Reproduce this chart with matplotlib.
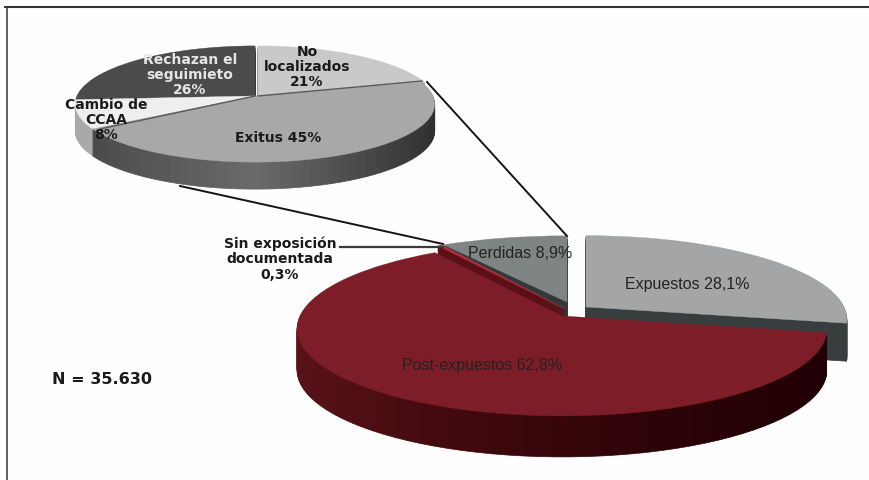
import matplotlib
matplotlib.use("Agg")
import matplotlib.pyplot as plt
import matplotlib.patches as mpatches
import matplotlib.transforms as mtrans
import matplotlib.colors as mcolors
import numpy as np

plt.rcParams['font.family'] = ['Liberation Sans', 'DejaVu Sans']

# main pie
main_names = ['Expuestos', 'Post-expuestos', 'Sin exposición', 'Perdidas']
main_vals = [28.1, 62.8, 0.3, 8.9]
main_top = ['#a3a5a6', '#7c1d27', '#b5303a', '#7f8485']
main_wall = [['#383d3e'], ['#1e0003', '#350509', '#5a1219'], ['#5c1016'], ['#33393a']]

# small pie, breakdown of perdidas
loss_names = ['No localizados', 'Exitus', 'Cambio de CCAA', 'Rechazan el seguimiento']
loss_vals = [21, 45, 8, 26]
loss_top = ['#c9c9c9', '#a8a8a8', '#efefef', '#4b4b4b']
loss_wall = [['#8c8c8c'], ['#2e2e2e', '#6a6a6a', '#454545'], ['#a9a9a9'], ['#333333']]


class Tilt(mtrans.Transform):
    # flat unit circle -> tilted disc in pixel coords
    input_dims = 2
    output_dims = 2
    is_separable = False

    def __init__(self, cx, cy, r, s, k):
        super().__init__()
        self.cx, self.cy, self.r, self.s, self.k = cx, cy, r, s, k

    def transform_non_affine(self, xy):
        xy = np.asarray(xy)
        w = 1 + self.k * xy[:, 1]
        return np.column_stack([self.cx + self.r * xy[:, 0] / w,
                                self.cy - self.s * xy[:, 1] / w])


fig = plt.figure(figsize=(8.7, 4.81), dpi=100, facecolor='#fefefe')
ax = fig.add_axes([0, 0, 1, 1])
z = [10]


def wall_color(stops, theta):
    # stops run from the right side of the disc to the left
    if len(stops) == 1:
        return stops[0]
    t = (1 - np.cos(np.radians(theta))) / 2
    rgb = np.array([mcolors.to_rgb(c) for c in stops])
    pos = np.linspace(0, 1, len(stops))
    return tuple(np.interp(t, pos, rgb[:, i]) for i in range(3))


def draw_slice(w, top, wall, cx, cy, r, s, k, depth):
    n = 1 if len(wall) == 1 else int((w.theta2 - w.theta1) / 3) + 1
    edges = np.linspace(w.theta1, w.theta2, n + 1)
    for d in np.arange(depth, 0, -1):
        for a, b in zip(edges[:-1], edges[1:]):
            c = wall_color(wall, (a + b) / 2)
            side = mpatches.Wedge((0, 0), 1, a, b, fc=c, ec=c, lw=0.5)
            ax.add_patch(side)
            side.set_transform(Tilt(cx, cy + d, r, s, k) + ax.transData)
            side.set_zorder(z[0])
        z[0] += 1
    w.set_facecolor(top)
    w.set_edgecolor(top)
    w.set_linewidth(0.3)
    w.set_transform(Tilt(cx, cy, r, s, k) + ax.transData)
    w.set_zorder(z[0])
    z[0] += 1


wedges, _ = ax.pie(main_vals, startangle=90, counterclock=False)
# back to front
draw_slice(wedges[3], main_top[3], main_wall[3], 567, 303, 262, 76, 0.149, 40)
draw_slice(wedges[2], main_top[2], main_wall[2], 565, 310, 262, 85, 0.149, 12)
draw_slice(wedges[0], main_top[0], main_wall[0], 586, 308, 258, 82, 0.149, 38)
draw_slice(wedges[1], main_top[1], main_wall[1], 562, 317, 262, 85, 0.149, 41)

wedges2, _ = ax.pie(loss_vals, startangle=90, counterclock=False)
draw_slice(wedges2[3], loss_top[3], loss_wall[3], 255, 97, 178, 57, 0.138, 27)
draw_slice(wedges2[0], loss_top[0], loss_wall[0], 258, 97, 178, 57, 0.138, 27)
draw_slice(wedges2[2], loss_top[2], loss_wall[2], 255, 97, 178, 57, 0.138, 27)
draw_slice(wedges2[1], loss_top[1], loss_wall[1], 255, 97, 178, 57, 0.138, 27)

ax.set_aspect('auto')
ax.set_xlim(0, 870)
ax.set_ylim(481, 0)
ax.axis('off')

top_z = z[0] + 10

# dividers on small pie
ax.plot([255, 100], [97, 130], color='#5a5a5a', lw=1, zorder=top_z)
ax.plot([258, 422], [97, 82], color='#5a5a5a', lw=1, zorder=top_z)

# leader lines
ax.plot([427, 567], [83, 237], color='#151515', lw=1.4, zorder=top_z)
ax.plot([180, 443], [187, 245], color='#151515', lw=1.4, zorder=top_z)
ax.plot([340, 443], [248, 248], color='#3a3a3a', lw=1.6, zorder=top_z)

# frame
ax.plot([5, 870], [8, 8], color='#333333', lw=1.5, zorder=top_z)
ax.plot([7.5, 7.5], [8, 481], color='#333333', lw=1.1, zorder=top_z)


def bold(x, y, txt, color='#1a1a1a', size=10):
    ax.text(x, y, txt, color=color, fontweight='bold', fontsize=size, family='DejaVu Sans',
            ha='center', va='center', linespacing=1.12, zorder=top_z + 1)


def plain(x, y, txt):
    ax.text(x, y, txt, color='#222222', fontsize=11.5, ha='center', va='center',
            zorder=top_z + 1)


bold(307, 67, 'No\nlocalizados\n21%')
bold(190, 75, 'Rechazan el\nseguimieto\n26%', color='#e6e6e6')
bold(278, 138, 'Exitus 45%')
bold(106, 120, 'Cambio de\nCCAA\n8%')
bold(280, 259, 'Sin exposición\ndocumentada\n0,3%')
plain(520, 254, 'Perdidas 8,9%')
plain(687, 285, 'Expuestos 28,1%')
plain(482, 366, 'Post-expuestos 62,8%')
bold(102, 380, 'N = 35.630', size=11.5)

fig.savefig('out.png', dpi=100, facecolor=fig.get_facecolor())
